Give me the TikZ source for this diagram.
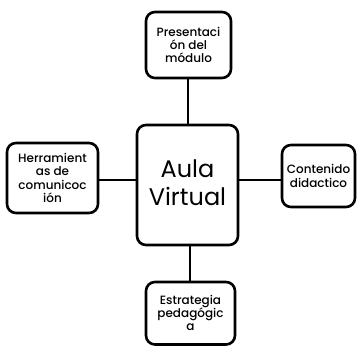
\documentclass[tikz,border=0pt]{standalone}
\usepackage{fontspec}
\setmainfont{Poppins}[UprightFont={* Medium}]
\newfontfamily\centerfont{Poppins}
\begin{document}
\begin{tikzpicture}[x=1pt,y=1pt,
  box/.style={draw=black, line width=2.6pt, rounded corners=9pt, fill=white},
  small/.style={font=\fontsize{12}{13.2}\selectfont, align=center, inner sep=0pt},
  conn/.style={draw=black, line width=1.8pt}]
\useasboundingbox (0,0) rectangle (360,346);
% boxes (y flipped: tikz y = 346 - image y)
\draw[box] (146,334) rectangle (231,268);
\node[small] (top) at (188.5,301) {Presentaci\\ón del\\módulo};
\draw[box] (7,203) rectangle (98,133);
\node[small] (left) at (52.5,168) {Herramient\\as de\\comunicoc\\ión};
\draw[box] (137,221) rectangle (238,101);
\node[font=\centerfont\fontsize{24}{28}\selectfont, align=center] (center) at (187.5,163) {Aula\\Virtual};
\draw[box] (282,201) rectangle (355,139);
\node[small] (right) at (318.5,170) {Contenido\\didactico};
\draw[box] (146,64) rectangle (235,1.5);
\node[small] (bottom) at (190.5,33) {Estrategia\\pedagógic\\a};
% connectors
\coordinate (t1) at (188,268); \coordinate (t2) at (188,221);
\coordinate (l1) at (98,166); \coordinate (l2) at (137,166);
\coordinate (r1) at (238,166); \coordinate (r2) at (282,166);
\coordinate (b1) at (190,101); \coordinate (b2) at (190,64);
\draw[conn] (t1) -- (t2);
\draw[conn] (l1) -- (l2);
\draw[conn] (r1) -- (r2);
\draw[conn] (b1) -- (b2);
\end{tikzpicture}
\end{document}
